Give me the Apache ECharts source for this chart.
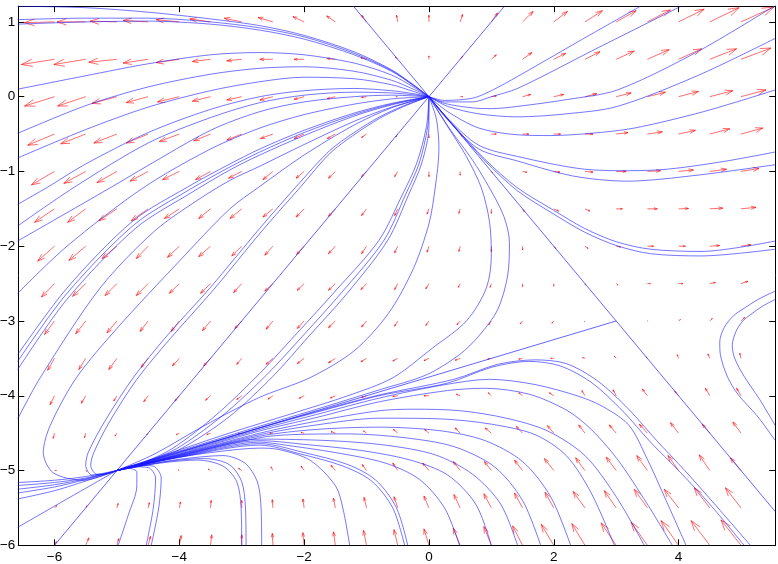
<!DOCTYPE html>
<html><head><meta charset="utf-8">
<script src="https://cdn.jsdelivr.net/npm/echarts@6/dist/echarts.min.js"></script>
<style>html,body{margin:0;padding:0;background:#fff}#c{width:778px;height:564px}</style>
</head><body><div id="c"></div>
<script>
// ---- axis ticks ----
const xTicks = [-6,-4,-2,0,2,4];
const yTicks = [-6,-5,-4,-3,-2,-1,0,1];

// ---- quiver grid ----
const arrowX = [-6,-5.5,-5,-4.5,-4,-3.5,-3,-2.5,-2,-1.5,-1,-0.5,0,0.5,1,1.5,2,2.5,3,3.5,4,4.5,5];
const arrowY = [1,0.5,0,-0.5,-1,-1.5,-2,-2.5,-3,-3.5,-4,-4.5,-5,-5.5,-6];
const arrowU = [
 [-0.48,-0.46,-0.43,-0.40,-0.37,-0.33,-0.28,-0.24,-0.18,-0.14,-0.08,-0.02,0.0,0.04,0.1,0.17,0.22,0.28,0.32,0.37,0.41,0.47,0.53],
 [-0.53,-0.51,-0.45,-0.40,-0.37,-0.29,-0.24,-0.21,-0.16,-0.13,-0.09,-0.04,0.0,0.04,0.08,0.15,0.19,0.24,0.29,0.35,0.37,0.43,0.48],
 [-0.48,-0.45,-0.40,-0.35,-0.35,-0.29,-0.24,-0.21,-0.16,-0.13,-0.08,-0.03,0.0,0.04,0.08,0.13,0.16,0.19,0.24,0.29,0.32,0.37,0.40],
 [-0.43,-0.40,-0.37,-0.35,-0.32,-0.27,-0.24,-0.20,-0.16,-0.13,-0.08,-0.03,0.0,0.03,0.08,0.10,0.11,0.13,0.19,0.24,0.27,0.32,0.35],
 [-0.37,-0.35,-0.32,-0.29,-0.27,-0.24,-0.21,-0.16,-0.13,-0.11,-0.08,-0.05,0.0,0.0,0.02,0.07,0.10,0.13,0.16,0.21,0.24,0.27,0.29],
 [-0.32,-0.29,-0.29,-0.27,-0.24,-0.19,-0.19,-0.16,-0.13,-0.11,-0.08,-0.05,-0.03,-0.02,0.0,0.03,0.08,0.08,0.10,0.16,0.16,0.21,0.24],
 [-0.27,-0.27,-0.24,-0.19,-0.19,-0.19,-0.16,-0.13,-0.12,-0.11,-0.08,-0.05,-0.03,-0.02,0.0,0.0,0.03,0.05,0.07,0.10,0.11,0.16,0.16],
 [-0.21,-0.21,-0.19,-0.19,-0.16,-0.16,-0.13,-0.13,-0.11,-0.11,-0.09,-0.05,-0.05,-0.03,-0.02,0.0,0.0,0.01,0.03,0.05,0.07,0.09,0.11],
 [-0.16,-0.16,-0.16,-0.13,-0.13,-0.13,-0.11,-0.11,-0.11,-0.11,-0.08,-0.05,-0.05,-0.05,-0.04,-0.04,-0.03,-0.01,0.0,0.01,0.03,0.04,0.06],
 [-0.11,-0.11,-0.13,-0.11,-0.11,-0.11,-0.08,-0.11,-0.11,-0.11,-0.09,-0.08,-0.08,-0.08,-0.06,-0.06,-0.05,-0.04,-0.03,-0.02,-0.02,-0.03,-0.02],
 [-0.07,-0.07,-0.05,-0.07,-0.07,-0.08,-0.08,-0.08,-0.08,-0.08,-0.08,-0.08,-0.08,-0.06,-0.05,-0.06,-0.07,-0.05,-0.05,-0.08,-0.06,-0.07,-0.07],
 [-0.02,-0.02,-0.03,-0.02,-0.05,-0.06,-0.06,-0.05,-0.05,-0.07,-0.05,-0.07,-0.07,-0.08,-0.10,-0.10,-0.10,-0.10,-0.11,-0.13,-0.13,-0.12,-0.13],
 [0.03,0.02,0.0,-0.01,-0.02,-0.04,-0.05,-0.03,-0.05,-0.07,-0.07,-0.08,-0.10,-0.11,-0.11,-0.13,-0.15,-0.15,-0.16,-0.17,-0.17,-0.17,-0.17],
 [0.04,0.02,0.02,0.02,0.02,0.01,0.0,-0.01,-0.02,-0.03,-0.04,-0.06,-0.08,-0.10,-0.12,-0.13,-0.14,-0.19,-0.19,-0.21,-0.23,-0.25,-0.25],
 [0.03,0.05,0.03,0.04,0.03,0.02,0.0,-0.01,-0.02,-0.03,-0.05,-0.06,-0.08,-0.11,-0.12,-0.16,-0.20,-0.21,-0.24,-0.26,-0.28,-0.30,-0.32]
];
const arrowV = [
 [-0.01,0.0,0.01,0.02,0.03,0.04,0.05,0.06,0.07,0.08,0.09,0.09,0.09,0.10,0.12,0.14,0.14,0.15,0.15,0.16,0.17,0.19,0.20],
 [-0.07,-0.07,-0.04,-0.05,-0.045,-0.03,-0.02,0.0,0.0,0.01,0.02,0.03,0.045,0.04,0.06,0.09,0.08,0.10,0.11,0.13,0.14,0.14,0.15],
 [-0.125,-0.125,-0.09,-0.08,-0.07,-0.06,-0.045,-0.045,-0.035,-0.027,-0.01,0.0,0.0,0.0,0.01,0.03,0.03,0.04,0.05,0.06,0.07,0.08,0.09],
 [-0.15,-0.13,-0.12,-0.12,-0.10,-0.09,-0.08,-0.06,-0.06,-0.06,-0.045,-0.04,-0.05,-0.03,0.0,0.0,0.0,0.0,0.02,0.03,0.05,0.07,0.08],
 [-0.18,-0.16,-0.15,-0.13,-0.11,-0.11,-0.09,-0.11,-0.09,-0.09,-0.07,-0.07,-0.07,-0.05,-0.02,-0.01,-0.01,-0.01,0.0,0.01,0.02,0.03,0.04],
 [-0.18,-0.18,-0.16,-0.16,-0.13,-0.13,-0.13,-0.11,-0.11,-0.10,-0.09,-0.09,-0.07,-0.06,-0.06,-0.04,-0.03,-0.03,0.0,0.0,0.005,0.01,0.02],
 [-0.20,-0.19,-0.165,-0.165,-0.15,-0.14,-0.13,-0.12,-0.11,-0.10,-0.10,-0.09,-0.08,-0.07,-0.07,-0.05,-0.03,-0.03,-0.01,0.0,0.0,0.01,0.02],
 [-0.18,-0.17,-0.16,-0.16,-0.13,-0.13,-0.12,-0.10,-0.09,-0.09,-0.08,-0.08,-0.07,-0.05,-0.05,-0.04,-0.035,-0.02,-0.02,0.0,0.0,0.015,0.03],
 [-0.18,-0.17,-0.16,-0.14,-0.14,-0.13,-0.10,-0.11,-0.10,-0.09,-0.08,-0.07,-0.06,-0.05,-0.05,-0.04,-0.03,-0.01,0.0,0.0,0.02,0.035,0.05],
 [-0.16,-0.15,-0.15,-0.12,-0.10,-0.10,-0.08,-0.08,-0.07,-0.06,-0.045,-0.035,-0.03,-0.025,-0.01,-0.01,0.0,0.01,0.03,0.02,0.05,0.06,0.07],
 [-0.12,-0.10,-0.07,-0.08,-0.07,-0.06,-0.05,-0.045,-0.035,-0.03,-0.02,-0.01,0.0,0.02,0.04,0.04,0.04,0.07,0.08,0.09,0.06,0.10,0.10],
 [-0.07,-0.06,-0.04,-0.02,-0.02,-0.02,-0.01,0.0,0.01,0.02,0.03,0.05,0.05,0.07,0.07,0.09,0.10,0.11,0.11,0.12,0.14,0.12,0.15],
 [0.0,-0.01,0.0,0.0,0.01,0.02,0.03,0.05,0.06,0.07,0.08,0.10,0.10,0.12,0.12,0.14,0.16,0.17,0.18,0.20,0.20,0.21,0.17],
 [0.03,0.03,0.06,0.07,0.08,0.10,0.10,0.11,0.12,0.13,0.14,0.15,0.16,0.18,0.19,0.20,0.21,0.22,0.23,0.25,0.25,0.27,0.27],
 [0.05,0.10,0.09,0.12,0.13,0.14,0.14,0.16,0.17,0.18,0.20,0.21,0.22,0.23,0.25,0.26,0.28,0.29,0.30,0.31,0.33,0.33,0.34]
];

// ---- straight invariant lines ----
const lineYX = [[-6,-6],[1.21,1.21]];
const lineYmX = [[-1.21,1.21],[5.55,-5.55]];
const lineSaddle = [[-5,-5],[3,-3]];

// ---- trajectories from the origin going left ----
const U1 = [[-6.59,1.21],[-5.5,1.19],[-4.5,1.13],[-3.5,1.04],[-2.71,0.95],[-2,0.82],[-1.2,0.6],[-0.6,0.36],[-0.25,0.16],[0,0]];
const U2 = [[-6.59,1.03],[-5.5,1.05],[-4.5,1.05],[-3.5,1.0],[-2.71,0.92],[-2,0.8],[-1.2,0.58],[-0.6,0.35],[-0.25,0.155],[0,0]];
const U3 = [[-6.59,0.97],[-5.5,1.0],[-4.5,1.01],[-3.5,0.97],[-2.71,0.89],[-2,0.77],[-1.2,0.56],[-0.6,0.34],[-0.25,0.15],[0,0]];
const CA = [[-6.59,0.1],[-5.5,0.28],[-4.5,0.44],[-3.5,0.56],[-2.71,0.59],[-2,0.56],[-1.2,0.45],[-0.6,0.29],[-0.25,0.13],[0,0]];
const CB = [[-6.59,-0.49],[-5.5,-0.12],[-4.5,0.13],[-3.5,0.3],[-2.71,0.38],[-2,0.4],[-1.2,0.34],[-0.6,0.22],[-0.25,0.1],[0,0]];
const CC = [[-6.59,-0.82],[-5.5,-0.44],[-4.5,-0.14],[-3.5,0.08],[-2.71,0.2],[-2,0.26],[-1.2,0.24],[-0.6,0.16],[-0.25,0.07],[0,0]];
const CD = [[-6.59,-1.44],[-6.13,-1.22],[-5.5,-0.9],[-4.5,-0.48],[-3.5,-0.17],[-2.71,0.0],[-2,0.08],[-1.2,0.11],[-0.6,0.08],[-0.25,0.04],[0,0]];
const CE = [[-6.59,-1.73],[-5.7,-1.22],[-4.5,-0.62],[-3.5,-0.28],[-2.71,-0.08],[-2,0.02],[-1.2,0.06],[-0.6,0.05],[-0.25,0.025],[0,0]];
const CF = [[-6.59,-1.93],[-5.11,-1.22],[-4.5,-0.92],[-3.5,-0.45],[-2.71,-0.2],[-2,-0.07],[-1.2,0.0],[-0.6,0.02],[-0.25,0.01],[0,0]];
const CG = [[-6.59,-2.63],[-5.8,-2.0],[-4.58,-1.22],[-3.5,-0.7],[-2.71,-0.42],[-2,-0.24],[-1.2,-0.1],[-0.6,-0.03],[0,0]];
const CH1 = [[-6.59,-3.45],[-5.8,-2.56],[-4.74,-1.66],[-3.85,-1.2],[-3.19,-0.9],[-2.71,-0.7],[-2,-0.45],[-1.2,-0.22],[-0.6,-0.09],[0,0]];
const CH2 = [[-6.59,-3.54],[-5.8,-2.63],[-4.72,-1.71],[-3.83,-1.24],[-3.19,-0.94],[-2.71,-0.74],[-2,-0.48],[-1.2,-0.24],[-0.6,-0.1],[0,0]];
const CH3 = [[-6.59,-3.65],[-5.8,-2.71],[-4.7,-1.76],[-3.8,-1.28],[-3.19,-0.98],[-2.71,-0.78],[-2,-0.52],[-1.2,-0.26],[-0.6,-0.11],[0,0]];
const CI = [[-6.59,-4.31],[-6.23,-3.76],[-5.27,-2.56],[-4.4,-1.8],[-3.7,-1.38],[-3.19,-1.12],[-2.71,-0.93],[-2,-0.64],[-1.2,-0.33],[-0.6,-0.14],[0,0]];
const LOOP2 = [[0,0],[-0.6,-0.15],[-1.2,-0.38],[-2,-0.78],[-2.71,-1.2],[-3.19,-1.5],[-4,-2.2],[-5,-3.1],[-5.65,-3.76],[-6.07,-4.4],[-6.18,-4.76],[-6.02,-5.03],[-5.54,-5.13],[-5,-5]];
const LOOP1 = [[0,0],[-0.4,-0.12],[-0.79,-0.27],[-1.2,-0.48],[-1.59,-0.72],[-2.07,-1.15],[-2.71,-1.76],[-3.5,-2.55],[-4.2,-3.2],[-4.74,-3.76],[-5.2,-4.35],[-5.46,-4.76],[-5.5,-4.93],[-5.4,-5.06],[-5.2,-5.05],[-5,-5]];
const LOOP1B = [[0,0],[-0.4,-0.13],[-0.79,-0.29],[-1.2,-0.51],[-1.59,-0.76],[-2.05,-1.2],[-2.68,-1.8],[-3.45,-2.58],[-4.15,-3.24],[-4.68,-3.78],[-5.12,-4.35],[-5.37,-4.76],[-5.42,-4.93],[-5.32,-5.05],[-5.15,-5.04],[-5,-5]];

// ---- trajectories from the origin going down-left into (-5,-5) ----
const T3A = [[0,0],[-0.04,-0.4],[-0.2,-0.9],[-0.42,-1.3],[-0.8,-1.92],[-1.5,-2.6],[-2.1,-3.15],[-2.71,-3.7],[-3.4,-4.25],[-4.1,-4.7],[-4.6,-4.9],[-5,-5]];
const T3B = [[0,0],[-0.02,-0.4],[-0.16,-0.9],[-0.37,-1.3],[-0.72,-1.92],[-1.4,-2.62],[-2.0,-3.18],[-2.6,-3.72],[-3.3,-4.26],[-4.05,-4.71],[-4.6,-4.9],[-5,-5]];
const T3C = [[0,0],[0.0,-0.4],[-0.12,-0.9],[-0.32,-1.3],[-0.66,-1.92],[-1.32,-2.64],[-1.92,-3.2],[-2.5,-3.74],[-3.2,-4.28],[-4.0,-4.72],[-4.6,-4.9],[-5,-5]];
const D3 = [[0,0],[0.12,-0.3],[0.16,-0.7],[0.1,-1.22],[0.0,-1.7],[-0.25,-2.3],[-0.65,-2.9],[-1.2,-3.4],[-1.91,-3.76],[-2.71,-4.02],[-3.6,-4.4],[-4.4,-4.78],[-5,-5]];
const D2 = [[0,0],[0.3,-0.4],[0.6,-0.8],[0.84,-1.22],[0.97,-1.67],[1.0,-2.11],[0.92,-2.56],[0.6,-3.0],[0.06,-3.36],[-0.58,-3.76],[-1.3,-4.0],[-2.2,-4.24],[-3.2,-4.5],[-4.2,-4.78],[-5,-5]];
const D1 = [[0,0],[0.35,-0.45],[0.7,-0.85],[0.97,-1.22],[1.2,-1.6],[1.29,-1.95],[1.26,-2.4],[1.1,-2.85],[0.8,-3.2],[0.49,-3.45],[-0.04,-3.72],[-0.79,-3.92],[-1.8,-4.18],[-3,-4.48],[-4,-4.74],[-5,-5]];

// ---- trajectories from the bottom / lower right into (-5,-5) ----
const R1 = [[5.05,-6],[4.5,-5.45],[4.0,-5.0],[3.55,-4.62],[3.1,-4.2],[2.6,-3.82],[2.1,-3.6],[1.6,-3.54],[1.0,-3.62],[0.3,-3.83],[-0.8,-4.0],[-1.8,-4.22],[-2.71,-4.43],[-4,-4.76],[-5,-5]];
const R1B = [[5.15,-6],[4.6,-5.47],[4.1,-5.0],[3.65,-4.6],[3.2,-4.18],[2.7,-3.8],[2.2,-3.57],[1.7,-3.52],[1.1,-3.58],[0.4,-3.78],[-0.8,-3.99],[-1.8,-4.21],[-2.71,-4.43],[-4,-4.755],[-5,-5]];
const R2 = [[4.12,-6],[3.8,-5.4],[3.5,-4.85],[3.21,-4.4],[2.8,-4.15],[2.41,-4.01],[1.7,-3.85],[0.97,-3.78],[0.2,-3.86],[-0.79,-4.03],[-1.8,-4.25],[-2.71,-4.45],[-4,-4.77],[-5,-5]];
const R3 = [[3.9,-6],[3.5,-5.45],[3.02,-4.85],[2.6,-4.45],[2.22,-4.2],[1.61,-3.98],[0.9,-3.9],[0.3,-3.93],[-0.79,-4.08],[-1.8,-4.29],[-2.71,-4.47],[-4,-4.78],[-5,-5]];
const R4 = [[3.45,-6],[3.0,-5.35],[2.5,-4.8],[1.9,-4.47],[1.24,-4.3],[0.5,-4.2],[-0.25,-4.18],[-0.79,-4.2],[-1.8,-4.34],[-2.71,-4.5],[-4,-4.785],[-5,-5]];
const R5 = [[2.97,-6],[2.6,-5.3],[2.2,-4.8],[1.7,-4.52],[1.0,-4.38],[0.2,-4.31],[-0.79,-4.3],[-1.8,-4.39],[-2.71,-4.52],[-4,-4.79],[-5,-5]];
const R6 = [[2.27,-6],[1.95,-5.35],[1.5,-4.88],[0.9,-4.6],[0.2,-4.47],[-0.79,-4.42],[-1.8,-4.45],[-2.71,-4.54],[-4,-4.795],[-5,-5]];
const R7 = [[1.79,-6],[1.5,-5.4],[1.05,-4.95],[0.4,-4.68],[-0.4,-4.56],[-1.3,-4.51],[-2.2,-4.52],[-2.71,-4.56],[-4,-4.8],[-5,-5]];
const R8 = [[1.42,-6],[1.15,-5.45],[0.7,-5.05],[0.1,-4.79],[-0.7,-4.66],[-1.6,-4.6],[-2.71,-4.58],[-4,-4.805],[-5,-5]];
const R9 = [[1.0,-6],[0.75,-5.45],[0.3,-5.06],[-0.3,-4.86],[-1.1,-4.73],[-2.0,-4.65],[-2.71,-4.6],[-4,-4.81],[-5,-5]];
const R10 = [[0.49,-6],[0.25,-5.5],[-0.15,-5.12],[-0.7,-4.9],[-1.5,-4.76],[-2.3,-4.66],[-2.71,-4.62],[-4,-4.815],[-5,-5]];
const R11 = [[-0.34,-6],[-0.52,-5.5],[-0.85,-5.13],[-1.3,-4.92],[-2.0,-4.76],[-2.71,-4.64],[-4,-4.82],[-5,-5]];
const R12 = [[-0.39,-6],[-0.58,-5.5],[-0.92,-5.14],[-1.38,-4.94],[-2.05,-4.78],[-2.71,-4.66],[-4,-4.825],[-5,-5]];
const R13 = [[-1.27,-6],[-1.38,-5.5],[-1.5,-5.2],[-1.91,-4.86],[-2.4,-4.72],[-2.71,-4.7],[-3.5,-4.76],[-4.2,-4.85],[-5,-5]];
const B6 = [[-2.68,-6],[-2.69,-5.5],[-2.75,-5.15],[-2.95,-4.9],[-3.3,-4.8],[-4,-4.85],[-4.5,-4.92],[-5,-5]];
const B5 = [[-2.93,-6],[-2.94,-5.5],[-3.0,-5.15],[-3.2,-4.92],[-3.6,-4.84],[-4.2,-4.88],[-5,-5]];
const B4 = [[-3.0,-6],[-3.01,-5.5],[-3.08,-5.15],[-3.3,-4.94],[-3.7,-4.86],[-4.3,-4.9],[-5,-5]];
const B3 = [[-4.45,-6],[-4.33,-5.5],[-4.29,-5.1],[-4.42,-4.94],[-4.72,-4.93],[-5,-5]];
const B2 = [[-4.53,-6],[-4.42,-5.52],[-4.38,-5.1],[-4.5,-4.96],[-4.75,-4.95],[-5,-5]];
const B1 = [[-4.98,-6],[-4.82,-5.6],[-4.68,-5.2],[-4.68,-5.02],[-4.82,-4.97],[-5,-5]];

// ---- trajectories from the left edge into (-5,-5) ----
const LB1 = [[-6.59,-5.16],[-6,-5.13],[-5.5,-5.08],[-5,-5]];
const LB2 = [[-6.59,-5.2],[-6,-5.16],[-5.5,-5.1],[-5,-5]];
const LB3 = [[-6.59,-5.25],[-6,-5.19],[-5.5,-5.11],[-5,-5]];
const LB4 = [[-6.59,-5.3],[-6,-5.22],[-5.5,-5.12],[-5,-5]];
const LB5 = [[-6.59,-5.38],[-6,-5.27],[-5.5,-5.14],[-5,-5]];
const LB6 = [[-6.59,-5.76],[-5.8,-5.38],[-5,-5]];

// ---- trajectories from the origin going right ----
const E1 = [[0,0],[0.25,-0.05],[0.7,-0.02],[1.0,0.08],[1.42,0.27],[2.4,0.74],[3.39,1.21]];
const E2 = [[0,0],[0.25,-0.07],[0.7,-0.07],[1.0,0.0],[1.42,0.11],[2.7,0.65],[4.04,1.21]];
const E3 = [[0,0],[0.25,-0.09],[0.7,-0.15],[1.0,-0.16],[1.42,-0.13],[2.2,-0.04],[3.02,0.09],[4.3,0.6],[5.53,1.21]];
const E4 = [[0,0],[0.3,-0.13],[0.8,-0.23],[1.42,-0.27],[2.2,-0.23],[3.02,-0.13],[4.3,0.28],[5.55,0.78]];
const E5 = [[0,0],[0.3,-0.2],[0.8,-0.42],[1.42,-0.51],[1.95,-0.52],[2.6,-0.49],[3.29,-0.42],[4.4,-0.2],[5.55,0.09]];
const E6 = [[0,0],[0.3,-0.29],[0.8,-0.65],[1.42,-0.8],[2.49,-0.97],[3.2,-0.99],[3.82,-0.97],[4.7,-0.87],[5.55,-0.74]];
const E7 = [[0,0],[0.3,-0.31],[0.8,-0.7],[1.42,-0.86],[2.3,-1.06],[3.18,-1.13],[4.3,-1.05],[5.55,-0.91]];
const E8 = [[0,0],[0.4,-0.39],[0.9,-0.84],[1.42,-1.22],[2.0,-1.52],[2.49,-1.76],[3.0,-1.94],[3.55,-2.04],[4.36,-2.07],[5.55,-1.93]];
const E9 = [[0,0],[0.4,-0.395],[0.9,-0.86],[1.42,-1.26],[2.0,-1.57],[2.49,-1.81],[3.0,-1.99],[3.55,-2.1],[4.36,-2.13],[5.55,-2.04]];

// ---- trajectories near the right edge ----
const H1 = [[5.55,-4.6],[5.26,-4.27],[4.95,-3.98],[4.78,-3.74],[4.67,-3.45],[4.66,-3.28],[4.73,-3.09],[4.88,-2.93],[5.05,-2.83],[5.3,-2.7],[5.55,-2.6]];
const H2 = [[5.55,-4.4],[5.3,-4.05],[5.05,-3.74],[4.9,-3.5],[4.86,-3.33],[4.92,-3.14],[5.03,-3.0],[5.16,-2.91],[5.35,-2.8],[5.55,-2.71]];

const trajectories = [U1,U2,U3,CA,CB,CC,CD,CE,CF,CG,CH1,CH2,CH3,CI,LOOP2,LOOP1,LOOP1B,
  T3A,T3B,T3C,D3,D2,D1,R1,R1B,R2,R3,R4,R5,R6,R7,R8,R9,R10,R11,R12,R13,B6,B5,B4,B3,B2,B1,
  LB1,LB2,LB3,LB4,LB5,LB6,E1,E2,E3,E4,E5,E6,E7,E8,E9,H1,H2];
const straightLines = [lineYX, lineYmX, lineSaddle];

// ---- build chart ----
const quiverData = [];
arrowY.forEach((y, i) => arrowX.forEach((x, j) => quiverData.push([x, y, arrowU[i][j], arrowV[i][j]])));

const FONT = "'Liberation Sans', Arial, sans-serif";
const X_MIN = -6.58, X_MAX = 5.55, Y_MIN = -6, Y_MAX = 1.21;
const fmt = v => String(v).replace('-', '\u2212');
const frameLine = {show:true, onZero:false, lineStyle:{color:'#000', width:1}};
function xAxisDef(pos, labels){
  return {type:'value', min:X_MIN, max:X_MAX, position:pos, axisLine:frameLine, splitLine:{show:false},
    axisTick:{show:true, inside:true, length:6, customValues:xTicks, lineStyle:{color:'#000'}},
    axisLabel:{show:labels, customValues:xTicks, formatter:fmt, color:'#000', fontSize:13.5, fontFamily:FONT, margin:5}};
}
function yAxisDef(pos, labels){
  return {type:'value', min:Y_MIN, max:Y_MAX, position:pos, axisLine:frameLine, splitLine:{show:false},
    axisTick:{show:true, inside:true, length:6, customValues:yTicks, lineStyle:{color:'#000'}},
    axisLabel:{show:labels, customValues:yTicks, formatter:fmt, color:'#000', fontSize:13.5, fontFamily:FONT, margin:3}};
}

const series = [{
  type:'custom', clip:true, silent:true, data:quiverData, encode:{x:0, y:1},
  renderItem(params, api){
    const x = api.value(0), y = api.value(1), u = api.value(2), v = api.value(3);
    const p0 = api.coord([x, y]), p1 = api.coord([x + u, y + v]);
    const dx = p1[0] - p0[0], dy = p1[1] - p0[1];
    const a = 0.33, b = 0.33;
    const h1 = [p1[0] - a * (dx + b * dy), p1[1] - a * (dy - b * dx)];
    const h2 = [p1[0] - a * (dx - b * dy), p1[1] - a * (dy + b * dx)];
    const st = {stroke:'rgba(255,0,0,0.72)', lineWidth:0.8, fill:null};
    return {type:'group', children:[
      {type:'polyline', shape:{points:[p0, p1]}, style:st},
      {type:'polyline', shape:{points:[h1, p1, h2]}, style:st}
    ]};
  }
}];
trajectories.forEach(c => series.push({type:'line', data:c, showSymbol:false, smooth:0.3, silent:true, clip:true,
  lineStyle:{color:'#1a1aff', width:0.8, opacity:0.75}}));
straightLines.forEach(c => series.push({type:'line', data:c, showSymbol:false, silent:true, clip:true,
  lineStyle:{color:'#1a1aff', width:0.8, opacity:0.85}}));

const chart = echarts.init(document.getElementById('c'), null, {renderer:'canvas'});
chart.setOption({
  animation:false, backgroundColor:'#fff',
  grid:{left:18.3, right:2.7, top:6.2, bottom:18.7, containLabel:false, outerBoundsMode:'none'},
  xAxis:[xAxisDef('bottom', true), xAxisDef('top', false)],
  yAxis:[yAxisDef('left', true), yAxisDef('right', false)],
  series
});
</script></body></html>
